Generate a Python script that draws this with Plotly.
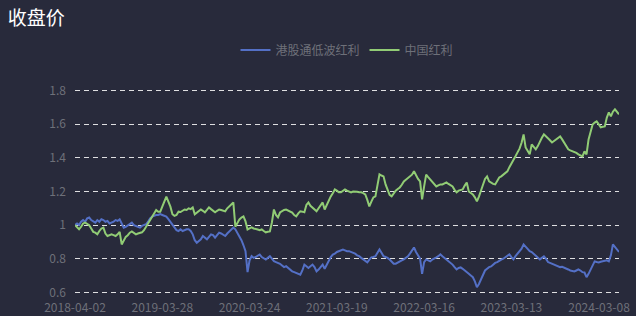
import pandas as pd
import plotly.graph_objects as go

title_text = "收盘价"
series_names = ["港股通低波红利", "中国红利"]
tick_labels = ["2018-04-02", "2019-03-28", "2020-03-24", "2021-03-19",
               "2022-03-16", "2023-03-13", "2024-03-08"]
y_ticks = [0.6, 0.8, 1.0, 1.2, 1.4, 1.6, 1.8]
y_tick_text = ["0.6", "0.8", "1", "1.2", "1.4", "1.6", "1.8"]
start_date = "2018-04-02"

blue_vals = [
    1.00, 1.01, 1.00, 1.02, 1.03, 1.02, 1.04, 1.045, 1.03, 1.02,
    1.015, 1.03, 1.02, 1.035, 1.03, 1.02, 1.025, 1.01, 1.015, 1.02,
    1.03, 1.025, 1.035, 1.01, 0.985, 0.99, 1.00, 1.01, 1.015, 1.00,
    0.995, 0.99, 0.985, 0.995, 1.00, 1.005, 1.02, 1.04, 1.05, 1.055,
    1.06, 1.06, 1.065, 1.06, 1.055, 1.05, 1.035, 1.02, 1.00, 0.985,
    0.97, 0.965, 0.975, 0.965, 0.97, 0.975, 0.975, 0.965, 0.945, 0.91,
    0.895, 0.905, 0.915, 0.935, 0.925, 0.915, 0.93, 0.945, 0.94, 0.925,
    0.94, 0.955, 0.95, 0.94, 0.935, 0.95, 0.96, 0.975, 0.985, 0.975,
    0.955, 0.93, 0.91, 0.88, 0.845, 0.72, 0.79, 0.815, 0.805, 0.81,
    0.82, 0.825, 0.81, 0.80, 0.795, 0.805, 0.815, 0.80, 0.785, 0.78,
    0.775, 0.77, 0.76, 0.75, 0.755, 0.745, 0.73, 0.725, 0.72, 0.715,
    0.71, 0.705, 0.73, 0.765, 0.755, 0.745, 0.755, 0.765, 0.75, 0.725,
    0.735, 0.75, 0.765, 0.74, 0.765, 0.795, 0.81, 0.825, 0.83, 0.84,
    0.845, 0.85, 0.855, 0.85, 0.845, 0.845, 0.84, 0.838, 0.83, 0.82,
    0.815, 0.805, 0.795, 0.785, 0.778, 0.795, 0.808, 0.81, 0.815, 0.835,
    0.855, 0.835, 0.815, 0.81, 0.805, 0.795, 0.78, 0.77, 0.77, 0.778,
    0.785, 0.79, 0.796, 0.805, 0.814, 0.83, 0.85, 0.867, 0.84, 0.82,
    0.80, 0.71, 0.78, 0.796, 0.79, 0.784, 0.795, 0.80, 0.808, 0.815,
    0.826, 0.815, 0.805, 0.796, 0.785, 0.778, 0.765, 0.75, 0.736, 0.745,
    0.748, 0.74, 0.728, 0.718, 0.71, 0.70, 0.69, 0.665, 0.63, 0.65,
    0.675, 0.70, 0.73, 0.74, 0.75, 0.754, 0.765, 0.775, 0.78, 0.79,
    0.795, 0.80, 0.81, 0.815, 0.826, 0.81, 0.796, 0.815, 0.83, 0.84,
    0.86, 0.885, 0.87, 0.855, 0.845, 0.84, 0.83, 0.82, 0.81, 0.796,
    0.805, 0.814, 0.80, 0.78, 0.775, 0.77, 0.766, 0.76, 0.754, 0.75,
    0.752, 0.748, 0.74, 0.736, 0.73, 0.728, 0.724, 0.73, 0.736, 0.73,
    0.72, 0.718, 0.69, 0.71, 0.736, 0.765, 0.784, 0.78, 0.778, 0.782,
    0.785, 0.784, 0.79, 0.784, 0.82, 0.885, 0.87, 0.86, 0.84,
]

green_vals = [
    1.00, 0.99, 0.975, 0.99, 1.01, 1.015, 1.005, 1.00, 0.98, 0.96,
    0.955, 0.945, 0.965, 0.98, 0.985, 0.95, 0.935, 0.94, 0.945, 0.94,
    0.935, 0.945, 0.96, 0.885, 0.91, 0.93, 0.94, 0.955, 0.962, 0.955,
    0.945, 0.95, 0.955, 0.957, 0.97, 0.99, 1.01, 1.03, 1.05, 1.07,
    1.09, 1.08, 1.08, 1.11, 1.14, 1.17, 1.14, 1.11, 1.065, 1.055,
    1.06, 1.08, 1.078, 1.085, 1.093, 1.09, 1.10, 1.095, 1.105, 1.064,
    1.075, 1.085, 1.093, 1.085, 1.076, 1.09, 1.105, 1.095, 1.085, 1.076,
    1.085, 1.093, 1.09, 1.085, 1.082, 1.10, 1.111, 1.125, 1.135, 0.99,
    1.01, 1.034, 1.045, 1.052, 1.022, 0.974, 0.98, 0.986, 0.98, 0.975,
    0.974, 0.97, 0.974, 0.965, 0.957, 0.96, 0.962, 1.016, 1.093, 1.06,
    1.046, 1.075, 1.085, 1.09, 1.093, 1.088, 1.082, 1.075, 1.06, 1.052,
    1.07, 1.082, 1.08, 1.076, 1.12, 1.135, 1.115, 1.105, 1.095, 1.082,
    1.10, 1.12, 1.135, 1.093, 1.12, 1.15, 1.171, 1.19, 1.212, 1.205,
    1.195, 1.195, 1.205, 1.212, 1.205, 1.198, 1.195, 1.20, 1.20, 1.198,
    1.195, 1.195, 1.19, 1.183, 1.15, 1.111, 1.14, 1.165, 1.171, 1.24,
    1.302, 1.295, 1.29, 1.242, 1.21, 1.18, 1.171, 1.19, 1.205, 1.215,
    1.224, 1.24, 1.26, 1.27, 1.28, 1.29, 1.30, 1.32, 1.295, 1.275,
    1.26, 1.153, 1.23, 1.30, 1.285, 1.27, 1.26, 1.245, 1.23, 1.236,
    1.242, 1.242, 1.25, 1.254, 1.245, 1.235, 1.23, 1.21, 1.195, 1.205,
    1.21, 1.212, 1.235, 1.254, 1.20, 1.19, 1.183, 1.165, 1.141, 1.17,
    1.20, 1.24, 1.275, 1.29, 1.26, 1.25, 1.245, 1.242, 1.26, 1.284,
    1.29, 1.30, 1.31, 1.32, 1.345, 1.37, 1.39, 1.41, 1.433, 1.455,
    1.49, 1.54, 1.462, 1.44, 1.421, 1.48, 1.465, 1.451, 1.47, 1.498,
    1.52, 1.54, 1.53, 1.52, 1.505, 1.492, 1.50, 1.51, 1.515, 1.528,
    1.51, 1.492, 1.47, 1.451, 1.445, 1.44, 1.439, 1.43, 1.421, 1.415,
    1.409, 1.439, 1.421, 1.51, 1.56, 1.599, 1.61, 1.617, 1.60, 1.582,
    1.585, 1.587, 1.64, 1.671, 1.647, 1.675, 1.689, 1.671, 1.659,
]

n = min(len(blue_vals), len(green_vals))
dates = pd.bdate_range(start=start_date, periods=n, freq="6B")

colors = ["#5470c6", "#91cc75"]
bg = "#282a3b"
grey = "#6e7079"

fig = go.Figure()
for name, vals, c in zip(series_names, [blue_vals[:n], green_vals[:n]], colors):
    fig.add_trace(go.Scatter(x=dates, y=vals, mode="lines", name=name,
                             line=dict(color=c, width=2)))

fig.update_layout(
    width=636, height=316,
    paper_bgcolor=bg, plot_bgcolor=bg,
    margin=dict(l=75, r=17, t=89, b=22, autoexpand=False),
    font=dict(family="Noto Sans CJK SC, Noto Sans, sans-serif", color=grey, size=12),
    title=dict(text=title_text, x=0.012, xref="container", xanchor="left",
               y=1 - 18 / 316, yref="container", yanchor="middle",
               font=dict(size=19, color="#ffffff")),
    legend=dict(orientation="h", x=0.5, xanchor="center", xref="paper",
                y=1 - 50 / 316, yref="container", yanchor="middle",
                font=dict(size=12, color=grey), bgcolor="rgba(0,0,0,0)",
                itemwidth=30),
    showlegend=True,
)
fig.update_xaxes(
    range=[dates[0], dates[-1]],
    rangebreaks=[dict(bounds=["sat", "mon"])],
    tickvals=pd.to_datetime(tick_labels), ticktext=tick_labels,
    showgrid=False, zeroline=False, showline=False, ticks="",
    ticklabelstandoff=5, automargin=False,
    tickfont=dict(size=12, color=grey),
)
fig.update_yaxes(
    range=[0.59, 1.81],
    tickvals=y_ticks, ticktext=y_tick_text,
    showgrid=True, gridcolor="rgba(255,255,255,0.85)", griddash="5px,4px", gridwidth=1,
    zeroline=False, showline=False, ticks="", ticklabelstandoff=8, automargin=False,
    tickfont=dict(size=12, color=grey),
)

fig.write_html("out.html")
